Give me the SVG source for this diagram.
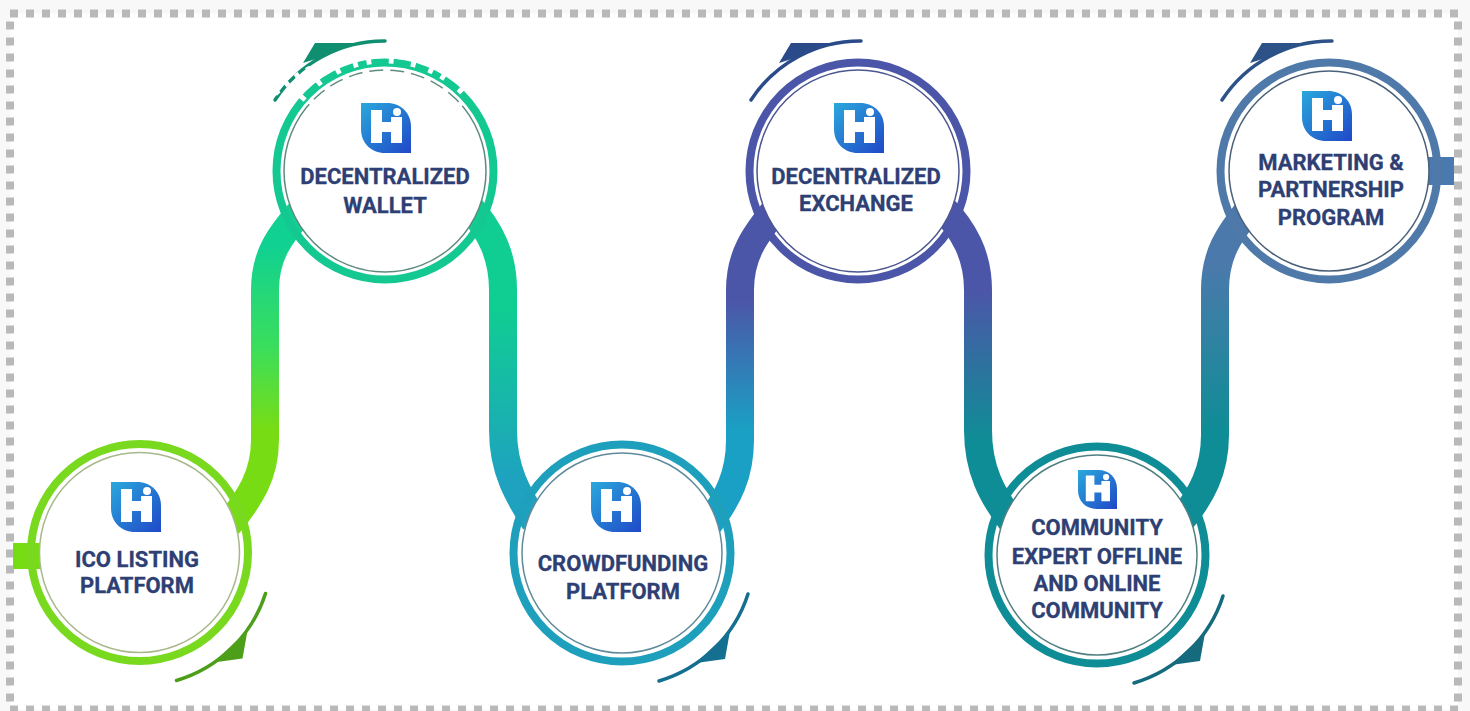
<svg xmlns="http://www.w3.org/2000/svg" width="1470" height="711" viewBox="0 0 1470 711">
<style>
.ring{fill:none;stroke-width:8}
.thin{fill:#fff;stroke-width:1.5}
.seg{fill:none;stroke-width:28}
.stub{stroke:none}
.deco{fill:none;stroke:currentColor;stroke-width:3.5;stroke-linecap:round}
.fin{fill:currentColor;stroke:none}
text{font-family:Roboto,"Liberation Sans",sans-serif;font-weight:700;font-size:22px;fill:#2e3f73;stroke:#2e3f73;stroke-width:.3;text-anchor:middle}
</style>
<defs>
<linearGradient id="g1" gradientUnits="userSpaceOnUse" x1="0" y1="430" x2="0" y2="245"><stop offset="0" stop-color="#78dc14"/><stop offset=".45" stop-color="#3ade5c"/><stop offset="1" stop-color="#10d192"/></linearGradient>
<linearGradient id="g2" gradientUnits="userSpaceOnUse" x1="0" y1="310" x2="0" y2="480"><stop offset="0" stop-color="#10cd92"/><stop offset="1" stop-color="#1ea2c0"/></linearGradient>
<linearGradient id="g3" gradientUnits="userSpaceOnUse" x1="0" y1="430" x2="0" y2="300"><stop offset="0" stop-color="#1aa0c4"/><stop offset="1" stop-color="#4c56a8"/></linearGradient>
<linearGradient id="g4" gradientUnits="userSpaceOnUse" x1="0" y1="290" x2="0" y2="440"><stop offset="0" stop-color="#4c56a8"/><stop offset="1" stop-color="#0f8d96"/></linearGradient>
<linearGradient id="g5" gradientUnits="userSpaceOnUse" x1="0" y1="430" x2="0" y2="260"><stop offset="0" stop-color="#0f8d96"/><stop offset="1" stop-color="#4c79ac"/></linearGradient>
<linearGradient id="lg" x1="0" y1="0" x2="1" y2="1"><stop offset="0" stop-color="#2aa8dc"/><stop offset="1" stop-color="#2048c8"/></linearGradient>
<g id="logo">
<path d="M0 0H26C40 0 50 10 50 24V50H24C10 50 0 40 0 26Z" fill="url(#lg)"/>
<path d="M10 7H21V19H30V14H41V40H30V29H21V40H10Z" fill="#fff"/>
<circle cx="36" cy="9" r="4" fill="#fff"/>
</g>
<g id="decoTop">
<path class="deco" d="M-107 -71A130 130 0 0 1 3 -130"/>
<path class="fin" d="M-79 -108L-67 -128L-26 -128L-60 -114Z"/>
</g>
<g id="decoBot">
<path class="deco" d="M126 41A133 133 0 0 1 37 128"/>
<path class="fin" d="M108 78L103 106L74 110Z"/>
</g>
</defs>
<rect x="0" y="0" width="1470" height="711" fill="#f8f8f8"/>
<rect x="10" y="13.500" width="1448" height="696" fill="#fff" stroke="#b9b9b9" stroke-width="8" stroke-dasharray="8 8"/>
<g id="connectors">
<path class="seg" stroke="url(#g1)" d="M228 525C250 498 265 475 265 440V290C265 255 280 235 302 210"/>
<path class="seg" stroke="url(#g2)" d="M468 205C490 230 503 255 503 290V430C503 470 518 495 535 522"/>
<path class="seg" stroke="url(#g3)" d="M708 525C728 498 740 475 740 440V290C740 255 755 235 775 210"/>
<path class="seg" stroke="url(#g4)" d="M940 205C964 230 978 255 978 290V430C978 470 992 495 1012 522"/>
<path class="seg" stroke="url(#g5)" d="M1180 522C1202 495 1215 470 1215 435V290C1215 255 1228 235 1250 208"/>
</g>
<g id="node-ico">
<rect class="stub" x="13" y="543" width="28" height="26" fill="#76dc14"/>
<circle class="ring" cx="139.500" cy="552.500" r="108.500" stroke="#78d91e"/>
<circle class="thin" cx="139.500" cy="552.500" r="100" stroke="#a8b88a"/>
<use href="#decoBot" x="139.500" y="552.500" color="#4d9f1a"/>
<use href="#logo" x="111" y="482"/>
<text x="137" y="567">ICO LISTING</text>
<text x="137" y="593">PLATFORM</text>
</g>
<g id="node-wallet">
<circle class="ring" cx="385" cy="171" r="108.500" stroke="#14c892"/>
<circle class="thin" cx="385" cy="171" r="101" stroke="#5f8a80"/>
<use href="#decoTop" x="382" y="171" color="#0f8f70"/>
<path d="M299 98A112 112 0 0 1 468 94" fill="none" stroke="#fff" stroke-width="12" stroke-dasharray="5 18 5 18 5 14 5 9"/>
<path d="M309 104A101 101 0 0 1 462 106" fill="none" stroke="#fff" stroke-width="4" stroke-dasharray="7 14"/>
<path d="M266 103A134 134 0 0 1 312 68" fill="none" stroke="#fff" stroke-width="6" stroke-dasharray="5 8"/>
<use href="#logo" x="361" y="103"/>
<text x="385" y="184">DECENTRALIZED</text>
<text x="385" y="213">WALLET</text>
</g>
<g id="node-crowdfunding">
<circle class="ring" cx="622" cy="553" r="108.500" stroke="#1ea0bc"/>
<circle class="thin" cx="622" cy="553" r="100" stroke="#5f8a9a"/>
<use href="#decoBot" x="622" y="553" color="#146f90"/>
<use href="#logo" x="591" y="482"/>
<text x="623" y="571">CROWDFUNDING</text>
<text x="623" y="599">PLATFORM</text>
</g>
<g id="node-exchange">
<circle class="ring" cx="858" cy="171" r="108.500" stroke="#4c56a8"/>
<circle class="thin" cx="858" cy="171" r="101" stroke="#4c5690"/>
<use href="#decoTop" x="858" y="171" color="#2b4a8a"/>
<use href="#logo" x="834" y="103"/>
<text x="856" y="184">DECENTRALIZED</text>
<text x="856" y="211">EXCHANGE</text>
</g>
<g id="node-community">
<circle class="ring" cx="1097" cy="555" r="108.500" stroke="#0f8d96"/>
<circle class="thin" cx="1097" cy="555" r="100" stroke="#4f7f80"/>
<use href="#decoBot" x="1097" y="555" color="#156a7e"/>
<use href="#logo" transform="translate(1078 470) scale(.78)"/>
<text x="1097" y="535">COMMUNITY</text>
<text x="1097" y="564">EXPERT OFFLINE</text>
<text x="1097" y="591">AND ONLINE</text>
<text x="1097" y="618">COMMUNITY</text>
</g>
<g id="node-marketing">
<rect class="stub" x="1425" y="157" width="29" height="28" fill="#4a79b0"/>
<circle class="ring" cx="1329" cy="171" r="108.500" stroke="#4f79a8"/>
<circle class="thin" cx="1329" cy="171" r="100" stroke="#4a6078"/>
<use href="#decoTop" x="1329" y="171" color="#2c5288"/>
<use href="#logo" x="1302" y="91"/>
<text x="1331" y="170">MARKETING &amp;</text>
<text x="1331" y="197">PARTNERSHIP</text>
<text x="1331" y="225">PROGRAM</text>
</g>
</svg>
